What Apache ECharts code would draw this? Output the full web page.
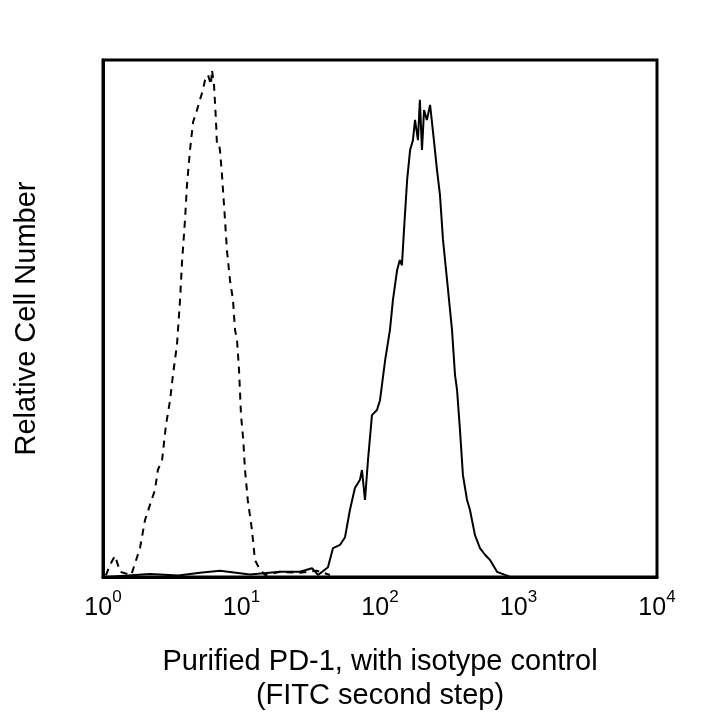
<!DOCTYPE html>
<html><head><meta charset="utf-8">
<script src="https://cdn.jsdelivr.net/npm/echarts@6/dist/echarts.min.js"></script>
<style>html,body{margin:0;background:#fff}#c{width:720px;height:720px}</style>
</head><body><div id="c"></div>
<script>
const isoX = [1.05,1.12,1.22,1.33,1.6,1.85,2.01,2.18,2.37,2.49,2.67,2.85,3.05,3.20,3.42,3.60,3.72,3.91,4.04,4.25,4.47,4.77,5.01,5.27,5.45,5.73,6.02,6.12,6.33,6.54,6.65,6.88,6.99,7.23,7.35,7.60,7.85,8.26,8.68,8.98,9.28,9.60,9.92,10.3,10.6,11.1,11.9,12.5,13.6,14.8,19.0,26.4,35,43.5];
const isoY = [0.3,2.3,4.1,1.0,0.4,5.6,11.0,13.9,16.8,20.7,22.6,29.4,34.2,39.1,44.9,53.6,60.9,69.1,75.8,82.6,88.0,90.3,92.3,94.2,96.1,97.1,95.2,98.1,95.2,88.4,83.6,83.6,82.6,77.8,74.9,69.1,63.2,57.4,53.6,47.8,45.8,40.0,31.3,26.5,20.7,14.9,9.1,3.3,1.4,0.4,1.0,0.8,1.2,0.4];
const posX = [1.05,2.18,3.5,5.01,7,11.5,19.0,26.4,32.3,35.7,42.1,45.8,51.4,55.9,60.7,65.9,71.7,74.1,77.9,81.9,87.5,95.1,100,109,118,124,133,139,144,149,157,165,173,179,188,194,201,208,218,230,245,258,271,285,305,331,348,360,378,397,425,446,485,527,573,623,700,800,868,1000,10000];
const posY = [0,0.6,0.3,0.8,1.2,0.5,1.0,1.0,1.7,0.4,1.9,5.6,6.2,7.7,13.0,17.2,18.8,20.7,14.9,22.6,31.3,32.3,34.2,42.0,47.8,53.6,59.4,61.3,60.3,67.1,76.8,82.6,84.5,88.4,84.5,92.3,82.6,90.3,88.4,91.3,84.5,78.7,73.9,65.2,57.4,47.8,39.1,36.2,28.4,19.7,14.9,13.0,8.1,5.6,4.3,3.3,1.0,0.4,0,0,0];
const tickExp = {1:'0',10:'1',100:'2',1000:'3',10000:'4'};
const zip = (a,b)=>a.map((v,i)=>[v,b[i]]);
const F = 'Liberation Sans, Arial, sans-serif';
const chart = echarts.init(document.getElementById('c'));
chart.setOption({
  animation:false,
  grid:{left:103,right:63,top:60,bottom:143},
  xAxis:{type:'log',logBase:10,min:1,max:10000,
    axisLine:{show:true,lineStyle:{color:'#000',width:3}},
    axisTick:{show:false},splitLine:{show:false},
    axisLabel:{margin:12,color:'#000',fontFamily:F,
      formatter:v=>'{b|10}{s|'+(tickExp[Math.round(v)]||'')+'}',
      rich:{b:{fontSize:25,fontFamily:F,color:'#000',verticalAlign:'bottom',padding:[7,0,0,0]},s:{fontSize:17,fontFamily:F,color:'#000',verticalAlign:'top',padding:[0,0,12,0]}}},
    name:'Purified PD-1, with isotype control\n(FITC second step)',nameLocation:'middle',nameGap:68,
    nameTextStyle:{fontSize:29,fontFamily:F,color:'#000',lineHeight:34}},
  yAxis:{type:'value',min:0,max:100,
    axisLine:{show:true,lineStyle:{color:'#000',width:3}},
    axisTick:{show:false},axisLabel:{show:false},splitLine:{show:false},
    name:'Relative Cell Number',nameLocation:'middle',nameGap:62,
    nameTextStyle:{fontSize:29,fontFamily:F,color:'#000'}},
  graphic:[{type:'rect',shape:{x:103,y:60,width:554,height:517},style:{fill:'none',stroke:'#000',lineWidth:3},z:10}],
  series:[
    {type:'line',data:zip(isoX,isoY),symbol:'none',lineStyle:{color:'#000',width:2,type:[7,6]}},
    {type:'line',data:zip(posX,posY),symbol:'none',lineStyle:{color:'#000',width:2}}
  ]
});
</script></body></html>
